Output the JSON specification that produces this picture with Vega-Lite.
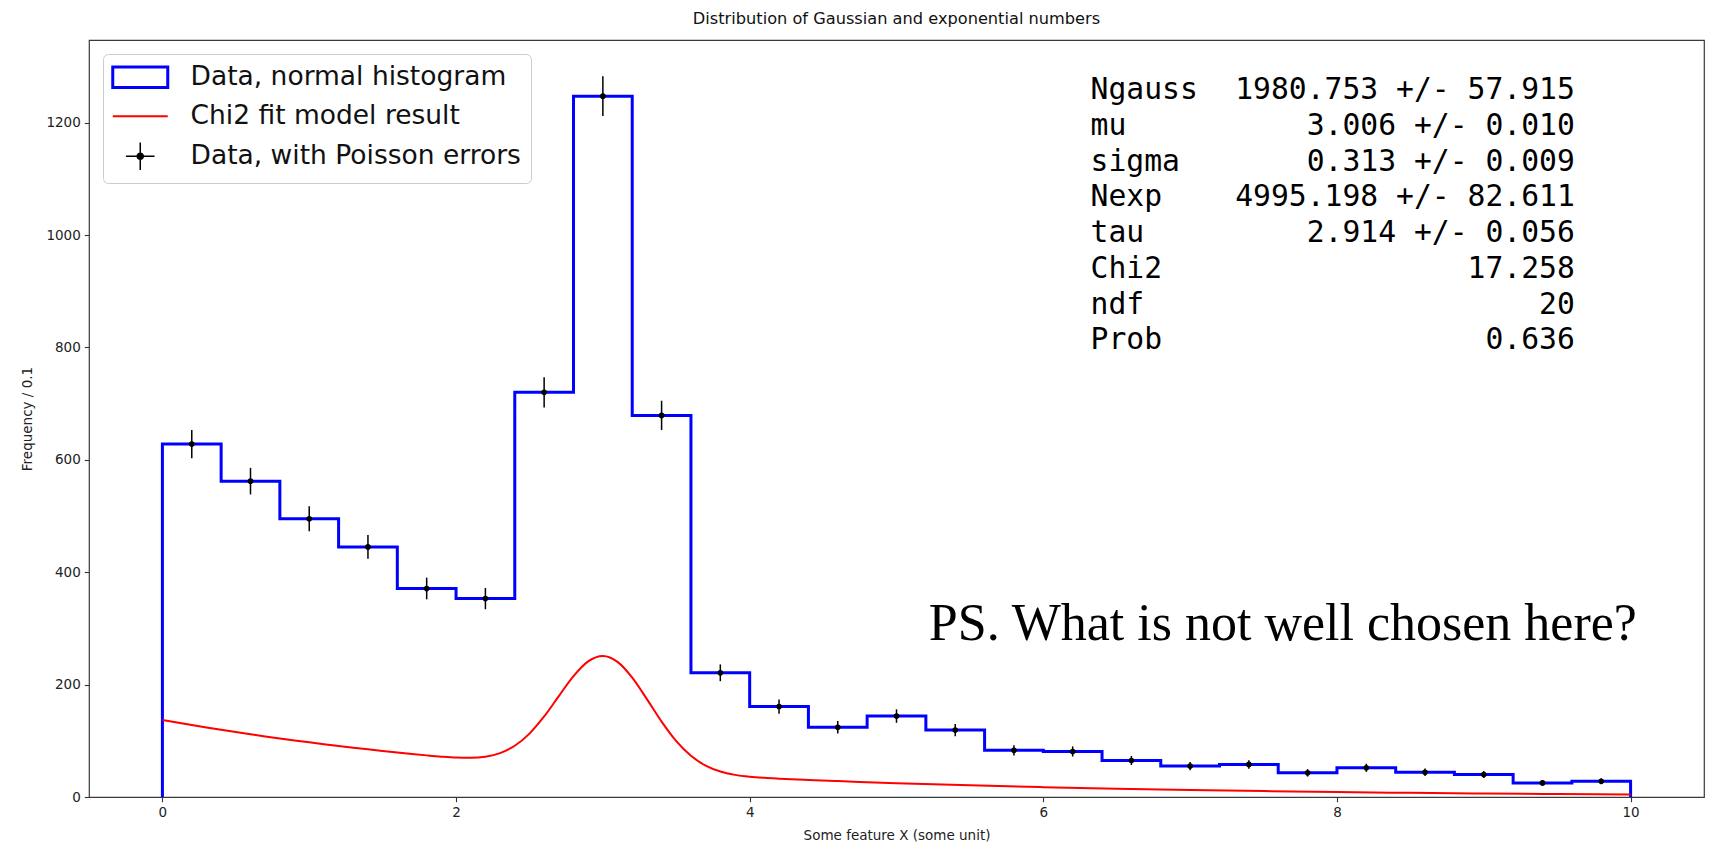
{
  "$schema": "https://vega.github.io/schema/vega-lite/v6.json",
  "width": 1615,
  "height": 757,
  "autosize": {"type": "none"},
  "padding": {"left": 89, "top": 40, "right": 17, "bottom": 52},
  "background": "white",
  "title": {"text": "Distribution of Gaussian and exponential numbers", "fontSize": 16.2, "fontWeight": "normal", "font": "DejaVu Sans", "color": "#111111", "offset": 13, "anchor": "middle"},
  "datasets": {
    "outline": [
      {"edge": 0, "count": 0},
      {"edge": 0, "count": 628},
      {"edge": 0.4, "count": 562},
      {"edge": 0.8, "count": 495},
      {"edge": 1.2, "count": 445},
      {"edge": 1.6, "count": 371},
      {"edge": 2.0, "count": 353},
      {"edge": 2.4, "count": 720},
      {"edge": 2.8, "count": 1247},
      {"edge": 3.2, "count": 679},
      {"edge": 3.6, "count": 221},
      {"edge": 4.0, "count": 161},
      {"edge": 4.4, "count": 124},
      {"edge": 4.8, "count": 144},
      {"edge": 5.2, "count": 119},
      {"edge": 5.6, "count": 83},
      {"edge": 6.0, "count": 81},
      {"edge": 6.4, "count": 65},
      {"edge": 6.8, "count": 55},
      {"edge": 7.2, "count": 58},
      {"edge": 7.6, "count": 43},
      {"edge": 8.0, "count": 52},
      {"edge": 8.4, "count": 44},
      {"edge": 8.8, "count": 40},
      {"edge": 9.2, "count": 25},
      {"edge": 9.6, "count": 28},
      {"edge": 10.0, "count": 0}
    ],
    "bins": [
      {"center": 0.2, "count": 628, "lo": 602.9, "hi": 653.1},
      {"center": 0.6, "count": 562, "lo": 538.3, "hi": 585.7},
      {"center": 1.0, "count": 495, "lo": 472.8, "hi": 517.2},
      {"center": 1.4, "count": 445, "lo": 423.9, "hi": 466.1},
      {"center": 1.8, "count": 371, "lo": 351.7, "hi": 390.3},
      {"center": 2.2, "count": 353, "lo": 334.2, "hi": 371.8},
      {"center": 2.6, "count": 720, "lo": 693.2, "hi": 746.8},
      {"center": 3.0, "count": 1247, "lo": 1211.7, "hi": 1282.3},
      {"center": 3.4, "count": 679, "lo": 652.9, "hi": 705.1},
      {"center": 3.8, "count": 221, "lo": 206.1, "hi": 235.9},
      {"center": 4.2, "count": 161, "lo": 148.3, "hi": 173.7},
      {"center": 4.6, "count": 124, "lo": 112.9, "hi": 135.1},
      {"center": 5.0, "count": 144, "lo": 132.0, "hi": 156.0},
      {"center": 5.4, "count": 119, "lo": 108.1, "hi": 129.9},
      {"center": 5.8, "count": 83, "lo": 73.9, "hi": 92.1},
      {"center": 6.2, "count": 81, "lo": 72.0, "hi": 90.0},
      {"center": 6.6, "count": 65, "lo": 56.9, "hi": 73.1},
      {"center": 7.0, "count": 55, "lo": 47.6, "hi": 62.4},
      {"center": 7.4, "count": 58, "lo": 50.4, "hi": 65.6},
      {"center": 7.8, "count": 43, "lo": 36.4, "hi": 49.6},
      {"center": 8.2, "count": 52, "lo": 44.8, "hi": 59.2},
      {"center": 8.6, "count": 44, "lo": 37.4, "hi": 50.6},
      {"center": 9.0, "count": 40, "lo": 33.7, "hi": 46.3},
      {"center": 9.4, "count": 25, "lo": 20.0, "hi": 30.0},
      {"center": 9.8, "count": 28, "lo": 22.7, "hi": 33.3}
    ],
    "fit": [
      {"x": 0.0, "model": 137.14}, {"x": 0.1, "model": 132.51}, {"x": 0.2, "model": 128.04}, {"x": 0.3, "model": 123.72},
      {"x": 0.4, "model": 119.55}, {"x": 0.5, "model": 115.51}, {"x": 0.6, "model": 111.62}, {"x": 0.7, "model": 107.85},
      {"x": 0.8, "model": 104.21}, {"x": 0.9, "model": 100.70}, {"x": 1.0, "model": 97.30}, {"x": 1.1, "model": 94.02},
      {"x": 1.2, "model": 90.85}, {"x": 1.3, "model": 87.78}, {"x": 1.4, "model": 84.82}, {"x": 1.5, "model": 81.96},
      {"x": 1.6, "model": 79.19}, {"x": 1.7, "model": 76.55}, {"x": 1.8, "model": 74.06}, {"x": 1.9, "model": 71.83},
      {"x": 2.0, "model": 70.19}, {"x": 2.1, "model": 69.77}, {"x": 2.2, "model": 71.79}, {"x": 2.3, "model": 78.15},
      {"x": 2.4, "model": 91.19}, {"x": 2.5, "model": 112.82}, {"x": 2.6, "model": 143.26}, {"x": 2.7, "model": 179.53},
      {"x": 2.8, "model": 215.11}, {"x": 2.9, "model": 241.41}, {"x": 3.0, "model": 250.91}, {"x": 3.1, "model": 240.40},
      {"x": 3.2, "model": 212.40}, {"x": 3.3, "model": 174.12}, {"x": 3.4, "model": 134.15}, {"x": 3.5, "model": 99.39},
      {"x": 3.6, "model": 73.22}, {"x": 3.7, "model": 55.81}, {"x": 3.8, "model": 45.31}, {"x": 3.9, "model": 39.38},
      {"x": 4.0, "model": 36.05}, {"x": 4.1, "model": 34.04}, {"x": 4.2, "model": 32.60}, {"x": 4.4, "model": 30.30},
      {"x": 4.6, "model": 28.29}, {"x": 4.8, "model": 26.41}, {"x": 5.0, "model": 24.66}, {"x": 5.5, "model": 20.77},
      {"x": 6.0, "model": 17.50}, {"x": 6.5, "model": 14.74}, {"x": 7.0, "model": 12.41}, {"x": 7.5, "model": 10.46},
      {"x": 8.0, "model": 8.81}, {"x": 8.5, "model": 7.42}, {"x": 9.0, "model": 6.25}, {"x": 9.5, "model": 5.26},
      {"x": 10.0, "model": 4.43}
    ],
    "stats": [
      {"line": 0, "param": "Ngauss", "value": "1980.753 +/- 57.915"},
      {"line": 1, "param": "mu", "value": "3.006 +/- 0.010"},
      {"line": 2, "param": "sigma", "value": "0.313 +/- 0.009"},
      {"line": 3, "param": "Nexp", "value": "4995.198 +/- 82.611"},
      {"line": 4, "param": "tau", "value": "2.914 +/- 0.056"},
      {"line": 5, "param": "Chi2", "value": "17.258"},
      {"line": 6, "param": "ndf", "value": "20"},
      {"line": 7, "param": "Prob", "value": "0.636"}
    ],
    "note": [{"text": "PS. What is not well chosen here?"}]
  },
  "layer": [
    {
      "layer": [
        {
          "data": {"name": "outline"},
          "mark": {"type": "line", "interpolate": "step-after", "strokeWidth": 3},
          "encoding": {
            "x": {"field": "edge", "type": "quantitative", "scale": {"domain": [-0.5, 10.5], "nice": false, "zero": false},
                  "axis": {"values": [0, 2, 4, 6, 8, 10], "format": "d"}, "title": "Some feature X (some unit)"},
            "y": {"field": "count", "type": "quantitative", "scale": {"domain": [0, 1347], "nice": false, "zero": false},
                  "axis": {"values": [0, 200, 400, 600, 800, 1000, 1200], "format": "d"}, "title": "Frequency / 0.1"},
            "color": {
              "datum": "Data, normal histogram", "type": "nominal",
              "scale": {"domain": ["Data, normal histogram", "Chi2 fit model result", "Data, with Poisson errors"], "range": ["#0000ff", "#ff0000", "#000000"]},
              "legend": {
                "title": null, "orient": "top-left", "offset": 14,
                "labelFontSize": 26.5, "labelFont": "DejaVu Sans", "labelColor": "#111111", "labelLimit": 0,
                "symbolSize": 3025, "symbolOffset": 14, "labelOffset": 37, "rowPadding": 9, "padding": 10,
                "fillColor": "rgba(255,255,255,0.85)", "strokeColor": "#cccccc", "cornerRadius": 5,
                "encode": {
                  "symbols": {
                    "update": {
                      "shape": {"signal": "datum.value === 'Data, normal histogram' ? 'M-1,-0.375H1V0.375H-1Z' : (datum.value === 'Chi2 fit model result' ? 'M-1,0H1' : 'M-0.52,0H0.52M0,-0.5V0.5M0.11,0A0.11,0.11,0,1,1,-0.11,0A0.11,0.11,0,1,1,0.11,0Z')"},
                      "fill": {"value": "#000000"},
                      "fillOpacity": {"signal": "datum.value === 'Data, with Poisson errors' ? 1 : 0"},
                      "stroke": {"signal": "datum.value === 'Data, normal histogram' ? '#0000ff' : (datum.value === 'Chi2 fit model result' ? '#ff0000' : '#000000')"},
                      "strokeWidth": {"signal": "datum.value === 'Data, normal histogram' ? 3 : (datum.value === 'Chi2 fit model result' ? 2 : 1.5)"},
                      "opacity": {"value": 1},
                      "strokeOpacity": {"value": 1}
                    }
                  }
                }
              }
            },
            "order": {"value": null}
          }
        },
        {
          "data": {"name": "fit"},
          "mark": {"type": "line", "interpolate": "monotone", "strokeWidth": 2},
          "encoding": {
            "x": {"field": "x", "type": "quantitative"},
            "y": {"field": "model", "type": "quantitative"},
            "color": {"datum": "Chi2 fit model result", "type": "nominal"}
          }
        },
        {
          "data": {"name": "bins"},
          "mark": {"type": "rule", "strokeWidth": 1.5},
          "encoding": {
            "x": {"field": "center", "type": "quantitative"},
            "y": {"field": "lo", "type": "quantitative"},
            "y2": {"field": "hi"},
            "color": {"datum": "Data, with Poisson errors", "type": "nominal"}
          }
        },
        {
          "data": {"name": "bins"},
          "mark": {"type": "point", "filled": true, "size": 32, "opacity": 1, "shape": "circle"},
          "encoding": {
            "x": {"field": "center", "type": "quantitative"},
            "y": {"field": "count", "type": "quantitative"},
            "color": {"datum": "Data, with Poisson errors", "type": "nominal"}
          }
        },
        {
          "data": {"name": "note"},
          "mark": {"type": "text", "font": "Liberation Serif", "fontSize": 52, "align": "left", "baseline": "alphabetic", "color": "#000000"},
          "encoding": {
            "x": {"datum": 5.22, "type": "quantitative"},
            "y": {"datum": 280.2, "type": "quantitative"},
            "text": {"field": "text"}
          }
        }
      ]
    },
    {
      "data": {"name": "stats"},
      "encoding": {
        "y": {"field": "line", "type": "quantitative", "scale": {"domain": [-1.3986, 19.768], "reverse": true, "nice": false, "zero": false}, "axis": null}
      },
      "layer": [
        {
          "mark": {"type": "text", "align": "left", "baseline": "middle", "font": "DejaVu Sans Mono", "fontSize": 29.7, "color": "#000000"},
          "encoding": {"x": {"datum": 6.322, "type": "quantitative"}, "text": {"field": "param"}}
        },
        {
          "mark": {"type": "text", "align": "right", "baseline": "middle", "font": "DejaVu Sans Mono", "fontSize": 29.7, "color": "#000000"},
          "encoding": {"x": {"datum": 9.62, "type": "quantitative"}, "text": {"field": "value"}}
        }
      ]
    }
  ],
  "resolve": {"scale": {"y": "independent"}},
  "config": {
    "font": "DejaVu Sans",
    "view": {"stroke": "#3a3a3a", "strokeWidth": 1.2},
    "axis": {
      "grid": false, "domain": false, "tickSize": 4.7, "tickColor": "#333333", "tickWidth": 1.1,
      "labelFontSize": 13.5, "labelColor": "#222222", "labelFont": "DejaVu Sans", "labelPadding": 4,
      "titleFontSize": 13.5, "titleFont": "DejaVu Sans", "titleFontWeight": "normal", "titleColor": "#222222"
    },
    "axisX": {"titlePadding": 9},
    "axisY": {"titlePadding": 11}
  }
}
